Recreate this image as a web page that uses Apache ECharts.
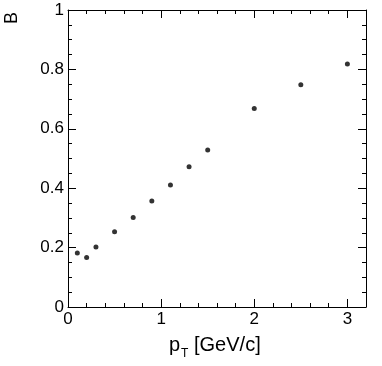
<!DOCTYPE html>
<html>
<head>
<meta charset="utf-8">
<script src="https://cdn.jsdelivr.net/npm/echarts@6/dist/echarts.min.js"></script>
<style>
html, body { margin: 0; padding: 0; background: #fff; }
#chart { width: 382px; height: 366px; }
</style>
</head>
<body>
<div id="chart"></div>
<script>
var ptValues = [0.1, 0.2, 0.3, 0.5, 0.7, 0.9, 1.1, 1.3, 1.5, 2.0, 2.5, 3.0];
var bValues = [0.182, 0.167, 0.202, 0.253, 0.301, 0.357, 0.411, 0.472, 0.529, 0.668, 0.748, 0.818];
var xRange = [0, 3.2];
var yRange = [0, 1];

var font = "Liberation Sans, Arial, sans-serif";
var dom = document.getElementById("chart"),
    myChart = echarts.init(dom);

function axisBase(pos, min, max, interval, minorSplit, labels) {
    return {
        type: "value",
        position: pos,
        min: min,
        max: max,
        interval: interval,
        axisLine: { show: true, onZero: false, lineStyle: { color: "#000", width: 1 } },
        axisTick: { show: true, inside: true, length: 8, lineStyle: { color: "#000", width: 1 } },
        minorTick: { show: true, splitNumber: minorSplit, length: 4, lineStyle: { color: "#000", width: 1 } },
        splitLine: { show: false },
        axisLabel: labels ? {
            show: true, color: "#000", fontSize: 17, fontFamily: font, margin: 4,
            showMaxLabel: pos == "left", showMinLabel: true
        } : { show: false }
    };
}

var data = ptValues.map(function(x, i) { return [x, bValues[i]]; });

var option = {
    animation: false,
    grid: { left: 68, right: 16, top: 10, bottom: 59 },
    xAxis: [
        axisBase("bottom", xRange[0], xRange[1], 1, 5, true),
        axisBase("top", xRange[0], xRange[1], 1, 5, false)
    ],
    yAxis: [
        axisBase("left", yRange[0], yRange[1], 0.2, 4, true),
        axisBase("right", yRange[0], yRange[1], 0.2, 4, false)
    ],
    graphic: [{
        type: "text",
        x: 3, y: 24,
        rotation: Math.PI / 2,
        style: { text: "B", fill: "#000", font: "18px " + font, textAlign: "left", textVerticalAlign: "top" }
    }, {
        type: "text",
        left: 169, top: 335,
        style: {
            text: "{n|p}{s|T}{n| [GeV/c]}",
            rich: {
                n: { fontSize: 20, fontFamily: font, fill: "#000" },
                s: { fontSize: 12, fontFamily: font, fill: "#000", padding: [17, 0, 0, 1] }
            }
        }
    }],
    series: [{
        type: "scatter",
        symbol: "circle",
        symbolSize: 5,
        itemStyle: { color: "#000" },
        data: data
    }]
};
myChart.setOption(option, true);
</script>
</body>
</html>
